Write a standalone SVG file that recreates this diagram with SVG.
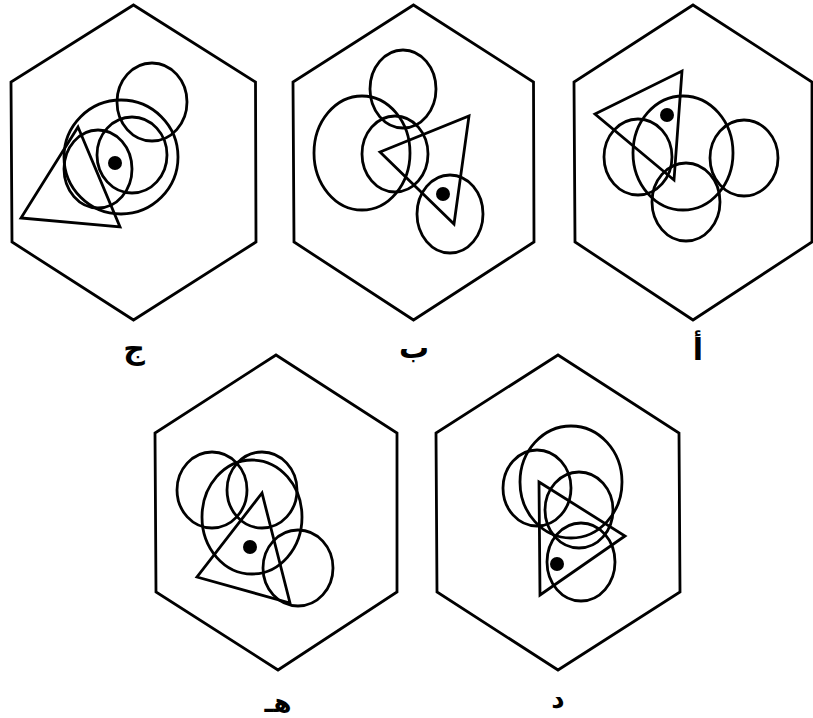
<svg xmlns="http://www.w3.org/2000/svg" width="813" height="718" viewBox="0 0 813 718">
<style>
.s{fill:none;stroke:#000;stroke-width:2.8;stroke-linejoin:miter}
.d{fill:#000}
.t{font-family:"DejaVu Sans",sans-serif;font-weight:bold;font-size:30px;text-anchor:middle;fill:#000}
.b{font-family:"DejaVu Sans",sans-serif;font-weight:bold;font-size:26px;text-anchor:middle;fill:#000}
</style>
<rect width="813" height="718" fill="#fff"/>
<g id="panel-jim">
<polygon class="s" points="133.5,5 255.5,82 256,242 133.5,320 12,242 11,82"/>
<ellipse class="s" cx="152" cy="102" rx="35" ry="39"/>
<ellipse class="s" cx="121" cy="157" rx="57" ry="57"/>
<ellipse class="s" cx="132" cy="155" rx="35" ry="38"/>
<ellipse class="s" cx="98" cy="169" rx="34" ry="39"/>
<polygon class="s" points="78,127 21,218 120,227"/>
<circle class="d" cx="115" cy="163" r="7"/>
<text class="t" x="134" y="359">ج</text>
</g>
<g id="panel-ba">
<polygon class="s" points="413.5,5 533.5,82 534,242 413.5,320 294,242 293,82"/>
<ellipse class="s" cx="403" cy="89" rx="33" ry="39"/>
<ellipse class="s" cx="362" cy="153" rx="48" ry="57"/>
<ellipse class="s" cx="395" cy="154" rx="33" ry="38"/>
<ellipse class="s" cx="450" cy="214" rx="33" ry="39"/>
<polygon class="s" points="380,152 469,116 454,224"/>
<circle class="d" cx="443" cy="194" r="7"/>
<text class="t" x="414" y="358">ب</text>
</g>
<g id="panel-alif">
<polygon class="s" points="693,5 812,82 812,242 693,320 575,242 574,82"/>
<ellipse class="s" cx="638" cy="157" rx="34" ry="38"/>
<ellipse class="s" cx="683" cy="153" rx="50" ry="57"/>
<ellipse class="s" cx="744" cy="158" rx="34" ry="38"/>
<ellipse class="s" cx="686" cy="202" rx="34" ry="39"/>
<polygon class="s" points="595,114 682,71 674,180"/>
<circle class="d" cx="667" cy="115" r="7"/>
<text class="t" x="698" y="360">أ</text>
</g>
<g id="panel-ha">
<polygon class="s" points="276,355 397,433 397,592 278,670 156,592 155,433"/>
<ellipse class="s" cx="212" cy="490" rx="35" ry="38"/>
<ellipse class="s" cx="262" cy="490" rx="35" ry="38"/>
<ellipse class="s" cx="252" cy="517" rx="50" ry="57"/>
<ellipse class="s" cx="298" cy="568" rx="35" ry="38"/>
<polygon class="s" points="262,493 197,577 290,603"/>
<circle class="d" cx="250" cy="547" r="7"/>
<text class="b" x="278" y="712">هـ</text>
</g>
<g id="panel-dal">
<polygon class="s" points="558,355 679,433 680,592 558,670 437,592 436,433"/>
<ellipse class="s" cx="571" cy="482" rx="51" ry="56"/>
<ellipse class="s" cx="537" cy="488" rx="34" ry="38"/>
<ellipse class="s" cx="579" cy="510" rx="34" ry="38"/>
<ellipse class="s" cx="581" cy="562" rx="34" ry="39"/>
<polygon class="s" points="539,482 625,536 540,595"/>
<circle class="d" cx="557" cy="564" r="7"/>
<text class="b" x="558" y="708">د</text>
</g>
</svg>
